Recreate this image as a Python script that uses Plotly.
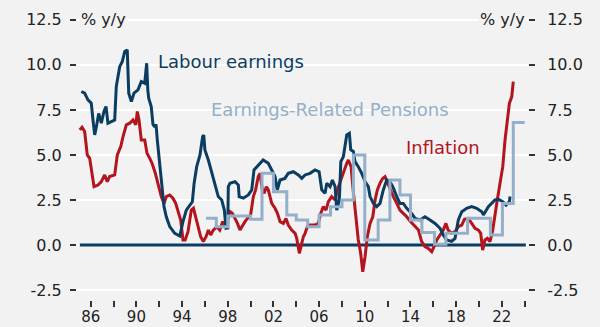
import plotly.graph_objects as go

# ---- Data (decimal years, % y/y) ----
earnings_years = [
    1985.18, 1985.47, 1985.76, 1986.05, 1986.2, 1986.35, 1986.5, 1986.7, 1986.93, 1987.16,
    1987.34, 1987.51, 1987.8, 1988.1, 1988.24, 1988.54, 1988.77, 1988.98, 1989.2, 1989.33,
    1989.56, 1989.79, 1990.14, 1990.43, 1990.73, 1990.9, 1991.0, 1991.08, 1991.3, 1991.45,
    1991.6, 1991.72, 1991.83, 1992.04, 1992.24, 1992.42, 1992.62, 1992.92, 1993.36, 1993.8,
    1994.08, 1994.37, 1994.67, 1994.9, 1995.05, 1995.28, 1995.57, 1995.8, 1995.9, 1996.0,
    1996.3, 1996.6, 1996.88, 1997.17, 1997.47, 1997.7, 1997.85, 1998.0, 1998.05, 1998.2,
    1998.64, 1998.93, 1999.0, 1999.37, 1999.8, 2000.1, 2000.3, 2000.68, 2001.1, 2001.55,
    2001.85, 2002.14, 2002.34, 2002.58, 2003.0, 2003.3, 2003.74, 2004.18, 2004.48, 2004.77,
    2005.2, 2005.64, 2006.0, 2006.23, 2006.52, 2006.67, 2006.96, 2007.16, 2007.4, 2007.54,
    2007.77, 2007.9, 2008.12, 2008.27, 2008.42, 2008.65, 2008.77, 2009.0, 2009.14, 2009.43,
    2009.73, 2010.02, 2010.31, 2010.46, 2010.75, 2011.04, 2011.33, 2011.62, 2011.92, 2012.2,
    2012.45, 2012.8, 2013.08, 2013.37, 2013.67, 2014.1, 2014.4, 2014.83, 2015.27, 2015.71,
    2016.15, 2016.59, 2016.87, 2017.17, 2017.6, 2017.9, 2018.19, 2018.49, 2018.92, 2019.36,
    2019.8, 2020.24, 2020.38, 2020.82, 2021.1, 2021.4, 2021.7, 2022.08, 2022.37, 2022.66,
    2022.72,
]
earnings_values = [
    8.52, 8.43, 8.06, 7.87, 6.94, 6.11, 6.57, 7.30, 6.76, 7.41,
    7.69, 6.76, 6.85, 6.94, 8.80, 9.90, 10.19, 10.74, 10.83, 8.43,
    7.96, 8.43, 8.61, 9.07, 8.98, 10.09, 8.60, 8.15, 7.69, 6.70,
    6.55, 6.70, 5.83, 4.35, 3.24, 2.13, 1.57, 1.02, 0.65, 0.50,
    1.30, 1.94, 2.20, 2.40, 3.40, 4.35, 5.00, 6.02, 6.10, 5.28,
    4.72, 3.98, 3.43, 2.69, 2.50, 1.94, 0.93, 0.95, 3.24, 3.43,
    3.52, 3.33, 2.69, 2.60, 2.78, 3.06, 4.17, 4.44, 4.72, 4.54,
    4.17, 3.80, 3.06, 3.61, 3.70, 3.98, 4.07, 3.89, 3.70, 3.89,
    3.98, 4.17, 4.07, 3.06, 2.87, 3.43, 3.24, 3.61, 3.24, 1.94,
    2.50, 4.63, 4.90, 5.46, 6.11, 6.20, 5.28, 5.20, 4.63, 4.35,
    3.98, 3.52, 3.24, 2.69, 2.31, 2.13, 2.31, 3.06, 3.61, 3.52,
    3.24, 2.69, 2.31, 2.31, 2.04, 1.76, 1.48, 1.39, 1.57, 1.39,
    1.20, 0.93, 0.56, 0.28, 0.20, 0.37, 1.39, 1.85, 2.04, 2.13,
    2.04, 1.85, 1.67, 2.13, 2.31, 2.50, 2.54, 2.41, 2.22, 2.41,
    2.69,
]

inflation_years = [
    1985.04, 1985.24, 1985.47, 1985.7, 1985.91, 1986.11, 1986.29, 1986.64, 1986.93, 1987.22,
    1987.45, 1987.66, 1988.1, 1988.33, 1988.63, 1988.83, 1989.12, 1989.42, 1989.7, 1989.95,
    1990.08, 1990.23, 1990.43, 1990.73, 1990.93, 1991.17, 1991.37, 1991.66, 1991.9, 1992.18,
    1992.42, 1992.62, 1992.92, 1993.2, 1993.44, 1993.64, 1993.88, 1994.08, 1994.27, 1994.52,
    1994.81, 1995.0, 1995.15, 1995.42, 1995.63, 1995.86, 1996.1, 1996.3, 1996.5, 1996.74,
    1997.03, 1997.3, 1997.56, 1997.77, 1997.96, 1998.2, 1998.4, 1998.64, 1998.85, 1999.07,
    1999.3, 1999.51, 1999.72, 2000.0, 2000.24, 2000.44, 2000.67, 2000.82, 2001.03, 2001.18,
    2001.38, 2001.55, 2001.85, 2002.14, 2002.35, 2002.58, 2002.87, 2003.1, 2003.3, 2003.6,
    2003.9, 2004.04, 2004.27, 2004.5, 2004.62, 2004.77, 2004.97, 2005.2, 2005.64, 2005.93,
    2006.14, 2006.37, 2006.6, 2006.81, 2007.1, 2007.4, 2007.6, 2007.9, 2008.18, 2008.42,
    2008.56, 2008.8, 2008.95, 2009.09, 2009.3, 2009.43, 2009.64, 2009.82, 2010.02, 2010.22,
    2010.46, 2010.7, 2010.9, 2011.1, 2011.33, 2011.57, 2011.77, 2012.0, 2012.2, 2012.5,
    2012.8, 2013.08, 2013.37, 2013.67, 2014.0, 2014.4, 2014.7, 2014.98, 2015.27, 2015.56,
    2015.86, 2016.06, 2016.3, 2016.59, 2016.87, 2017.1, 2017.3, 2017.6, 2017.9, 2018.19,
    2018.49, 2018.72, 2019.07, 2019.36, 2019.65, 2019.95, 2020.15, 2020.32, 2020.52, 2020.73,
    2020.96, 2021.2, 2021.4, 2021.6, 2021.84, 2022.08, 2022.28, 2022.48, 2022.66, 2022.87,
    2023.0,
]
inflation_values = [
    6.39, 6.54, 6.30, 5.00, 4.81, 3.98, 3.24, 3.33, 3.52, 3.89,
    3.52, 3.80, 3.89, 5.00, 5.46, 6.02, 6.67, 6.76, 6.94, 6.67,
    7.41, 6.94, 5.83, 5.83, 5.09, 4.81, 4.54, 3.98, 3.43, 2.69,
    2.31, 2.69, 2.78, 2.60, 2.31, 1.94, 1.39, 0.28, 0.28, 0.74,
    1.94, 2.04, 1.67, 1.02, 0.46, 0.19, 0.46, 0.83, 0.56, 0.83,
    1.02, 0.83, 1.30, 1.02, 1.39, 1.85, 1.76, 1.48, 1.20, 0.83,
    1.11, 1.30, 1.48, 1.67, 2.69, 3.06, 3.80, 3.98, 3.06, 2.87,
    3.24, 3.06, 2.31, 2.04, 1.76, 1.30, 1.20, 1.48, 1.11, 0.83,
    0.65, 0.37, -0.46, 0.19, 0.46, 0.65, 1.02, 1.11, 1.11, 1.20,
    1.76, 2.13, 1.94, 2.41, 2.69, 2.50, 3.06, 3.61, 4.17, 4.54,
    4.72, 4.35, 3.24, 2.31, 1.20, 0.28, -0.46, -1.48, -0.65, 0.46,
    1.20, 1.57, 2.50, 3.06, 3.43, 3.70, 3.80, 3.43, 3.06, 2.69,
    2.31, 1.94, 1.76, 1.57, 1.30, 1.02, 0.83, 0.19, -0.09, -0.19,
    -0.37, -0.09, 0.28, 0.56, 0.83, 1.20, 0.83, 0.65, 0.74, 1.02,
    1.11, 1.43, 1.48, 1.20, 0.93, 0.83, 0.65, -0.28, 0.28, 0.37,
    0.19, 0.83, 1.76, 2.50, 3.43, 4.35, 5.83, 7.13, 7.87, 8.24,
    9.07,
]

# Earnings-related pension index changes (step at each revision date)
pension_years = [
    1996.1, 1997.0, 1998.0, 2000.0, 2001.0, 2002.0, 2003.17, 2004.0, 2005.0, 2006.0,
    2007.0, 2008.0, 2009.0, 2010.0, 2011.17, 2012.2, 2013.08, 2014.0, 2015.0, 2016.1,
    2017.1, 2019.0, 2021.0, 2022.05, 2023.0, 2024.0,
]
pension_values = [
    1.48, 1.02, 1.61, 1.43, 3.98, 2.96, 1.67, 1.39, 1.02, 1.67,
    2.13, 2.50, 5.00, 0.28, 1.39, 3.61, 2.78, 1.39, 0.70, 0.05,
    0.65, 1.48, 0.56, 2.30, 6.80, 6.80,
]

baseline_years = [1985.05, 2024.1]
baseline_values = [0.0, 0.0]

y_ticks = [-2.5, 0.0, 2.5, 5.0, 7.5, 10.0, 12.5]
y_labels = ["-2.5", "0.0", "2.5", "5.0", "7.5", "10.0", "12.5"]
x_ticks = list(range(1986, 2025, 2))
x_labels = [f"{y % 100:02d}" if (y - 1986) % 4 == 0 else "" for y in x_ticks]

NAVY = "#0b3d62"
RED = "#b3141e"
LIGHT = "#93afca"
BG = "#f2f2f2"
TXT = "#222222"
FONT = "DejaVu Sans"

fig = go.Figure()
fig.add_trace(go.Scatter(x=baseline_years, y=baseline_values, mode="lines",
                         line=dict(color=NAVY, width=3), hoverinfo="skip"))
fig.add_trace(go.Scatter(x=inflation_years, y=inflation_values, mode="lines",
                         line=dict(color=RED, width=3), name="Inflation"))
fig.add_trace(go.Scatter(x=earnings_years, y=earnings_values, mode="lines",
                         line=dict(color=NAVY, width=3), name="Labour earnings"))
fig.add_trace(go.Scatter(x=pension_years, y=pension_values, mode="lines",
                         line=dict(color=LIGHT, width=3, shape="hv"),
                         name="Earnings-Related Pensions"))
# invisible trace to bind the right-hand axis
fig.add_trace(go.Scatter(x=baseline_years, y=baseline_values, yaxis="y2", mode="lines",
                         line=dict(width=0), hoverinfo="skip"))

y_range = [-3.05, 12.6]
axis_common = dict(
    range=y_range, tickmode="array", tickvals=y_ticks, ticktext=y_labels,
    ticks="outside", ticklen=6, tickwidth=1.5, tickcolor="#333333",
    tickfont=dict(family=FONT, size=16, color=TXT),
    showline=False, zeroline=False, automargin=False,
)

fig.update_layout(
    width=600, height=327,
    margin=dict(l=77, r=72, t=18, b=27),
    paper_bgcolor=BG, plot_bgcolor=BG,
    showlegend=False,
    xaxis=dict(
        range=[1984.8, 2024.29], tickmode="array", tickvals=x_ticks, ticktext=x_labels,
        ticks="outside", ticklen=6, tickwidth=1.5, tickcolor="#333333",
        tickfont=dict(family=FONT, size=15, color=TXT), ticklabelstandoff=-3,
        showgrid=False, showline=False, zeroline=False, automargin=False,
    ),
    yaxis=dict(**axis_common, showgrid=True, gridcolor="#ffffff", gridwidth=1.5,
               ticklabelstandoff=5),
    yaxis2=dict(**axis_common, overlaying="y", side="right", showgrid=False,
                ticklabelstandoff=9),
    annotations=[
        dict(text="% y/y", xref="paper", yref="y", x=0.005, y=12.5, xanchor="left",
             yanchor="middle", showarrow=False, bgcolor=BG,
             font=dict(family=FONT, size=16, color=TXT)),
        dict(text="% y/y", xref="paper", yref="y", x=0.997, y=12.5, xanchor="right",
             yanchor="middle", showarrow=False, bgcolor=BG,
             font=dict(family=FONT, size=16, color=TXT)),
        dict(text="Labour earnings", xref="x", yref="y", x=1991.75, y=10.17,
             xanchor="left", yanchor="middle", showarrow=False,
             font=dict(family=FONT, size=18, color=NAVY)),
        dict(text="Earnings-Related Pensions", xref="x", yref="y", x=1996.4, y=7.5,
             xanchor="left", yanchor="middle", showarrow=False,
             font=dict(family=FONT, size=18, color=LIGHT)),
        dict(text="Inflation", xref="x", yref="y", x=2013.4, y=5.44,
             xanchor="left", yanchor="middle", showarrow=False,
             font=dict(family=FONT, size=18, color=RED)),
    ],
)

fig.write_html("out.html")
